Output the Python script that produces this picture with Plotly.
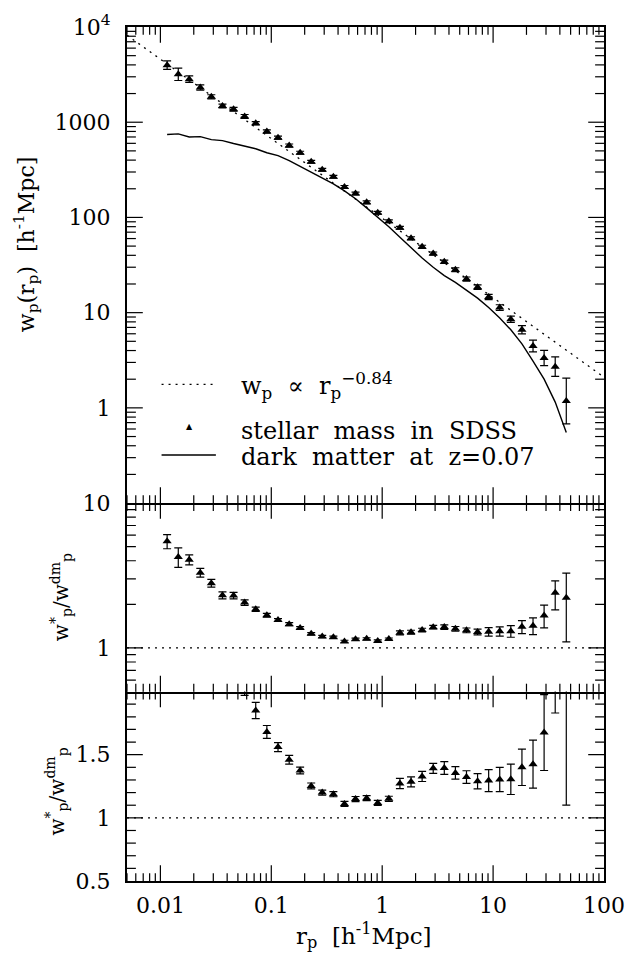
import numpy as np
import plotly.graph_objects as go

# ---------------- data ----------------
rp = [0.0115, 0.0145, 0.0182, 0.0229, 0.0288, 0.0363, 0.0457, 0.0575, 0.0724, 0.0912,
      0.115, 0.145, 0.182, 0.229, 0.288, 0.363, 0.457, 0.575, 0.724, 0.912,
      1.148, 1.445, 1.820, 2.291, 2.884, 3.631, 4.571, 5.754, 7.244, 9.120,
      11.48, 14.45, 18.20, 22.91, 28.84, 36.31, 45.71]

wp_star = [3975, 3185, 2833, 2317, 1846, 1479, 1368, 1151, 975, 799,
           688, 569, 479, 384, 317, 267, 209, 178, 144, 112,
           91.2, 77.8, 60.4, 49.2, 41.7, 34.2, 28.3, 22.5, 18.5, 14.6,
           11.3, 8.53, 6.62, 4.46, 3.34, 2.71, 1.18]

wp_star_err_dex = [0.044, 0.065, 0.034, 0.028, 0.022, 0.02, 0.02, 0.02, 0.018, 0.018,
                   0.016, 0.016, 0.015, 0.015, 0.015, 0.015, 0.015, 0.015, 0.015, 0.015,
                   0.015, 0.015, 0.016, 0.016, 0.017, 0.018, 0.02, 0.022, 0.024, 0.027,
                   0.03, 0.033, 0.043, 0.062, 0.08, 0.103, 0.24]

wp_dm = [743, 755, 700, 706, 656, 641, 597, 560, 526, 478,
         446, 396, 346, 300, 262, 225, 190, 157, 126, 101,
         80, 62, 48, 37.5, 30, 24.5, 20.8, 17.0, 14.2, 11.3,
         8.8, 6.6, 4.7, 3.1, 2.0, 1.15, 0.55]

ratio = [5.45, 4.25, 4.07, 3.31, 2.80, 2.31, 2.30, 2.06, 1.85, 1.68,
         1.56, 1.46, 1.375, 1.253, 1.20, 1.187, 1.11, 1.149, 1.156, 1.118,
         1.151, 1.272, 1.285, 1.328, 1.392, 1.395, 1.356, 1.323, 1.290, 1.295,
         1.303, 1.305, 1.40, 1.425, 1.675, 2.40, 2.22]
ratio_err_up = [0.61, 0.65, 0.32, 0.23, 0.17, 0.13, 0.12, 0.09, 0.064, 0.051,
                0.035, 0.035, 0.027, 0.023, 0.02, 0.02, 0.02, 0.02, 0.02, 0.02,
                0.02, 0.041, 0.04, 0.04, 0.04, 0.05, 0.05, 0.05, 0.06, 0.087,
                0.096, 0.12, 0.144, 0.19, 0.30, 0.50, 1.06]
ratio_err_dn = [0.61, 0.65, 0.32, 0.23, 0.17, 0.13, 0.12, 0.09, 0.064, 0.051,
                0.035, 0.035, 0.027, 0.023, 0.02, 0.02, 0.02, 0.02, 0.02, 0.02,
                0.02, 0.041, 0.04, 0.04, 0.04, 0.05, 0.05, 0.05, 0.06, 0.087,
                0.096, 0.12, 0.144, 0.19, 0.30, 0.57, 1.12]

powerlaw_rp = [0.005, 100]
powerlaw_wp = [8200, 2.1]
unity_rp = [0.005, 100]
unity_val = [1, 1]

x_ticks = [0.01, 0.1, 1, 10, 100]
x_ticktext = ["0.01", "0.1", "1", "10", "100"]
top_ticks = [0.1, 1, 10, 100, 1000, 10000]
top_ticktext = ["", "1", "10", "100", "1000", "10<sup>4</sup>"]
mid_ticks = [1, 10]
mid_ticktext = ["1", "10"]
bot_ticks = [0.5, 1, 1.5, 2]
bot_ticktext = ["0.5", "1", "1.5", ""]

# ---------------- layout geometry ----------------
W, H = 636, 958
L, R, T, B = 127, 26, 11, 77
PW = W - L - R   # 483
PH = H - T - B   # 870
H_TOP, H_MID, H_BOT = 485, 192, 193
d_bot = [0, H_BOT / PH]
d_mid = [H_BOT / PH, (H_BOT + H_MID) / PH]
d_top = [(H_BOT + H_MID) / PH, 1]

FONT = "DejaVu Serif"
TF = dict(family=FONT, size=22, color="black")
BLK = "#000000"

wp_up = [w * (10 ** e - 1) for w, e in zip(wp_star, wp_star_err_dex)]
wp_dn = [w * (1 - 10 ** (-e)) for w, e in zip(wp_star, wp_star_err_dex)]

def decade_minor(lo_exp, hi_exp):
    out = []
    for e in range(lo_exp, hi_exp):
        for m in range(2, 10):
            out.append(m * 10.0 ** e)
    return out

x_minor = [v for v in decade_minor(-3, 2) if 0.005 <= v <= 100]
top_minor = decade_minor(-1, 4)
mid_minor = [v for v in decade_minor(-1, 1) if v > 0.5]
bot_minor = [0.6, 0.7, 0.8, 0.9, 1.1, 1.2, 1.3, 1.4, 1.6, 1.7, 1.8, 1.9]

fig = go.Figure()

fig.add_trace(go.Scatter(x=powerlaw_rp, y=powerlaw_wp, mode="lines",
                         line=dict(color=BLK, width=1.3, dash="2px,5px"),
                         xaxis="x", yaxis="y", showlegend=False))
fig.add_trace(go.Scatter(x=rp, y=wp_dm, mode="lines",
                         line=dict(color=BLK, width=1.4),
                         xaxis="x", yaxis="y", showlegend=False))
fig.add_trace(go.Scatter(x=rp, y=wp_star, mode="markers",
                         marker=dict(symbol="triangle-up", size=8, color=BLK),
                         error_y=dict(type="data", array=wp_up, arrayminus=wp_dn,
                                      color=BLK, thickness=1.2, width=4),
                         xaxis="x", yaxis="y", showlegend=False))
fig.add_trace(go.Scatter(x=unity_rp, y=unity_val, mode="lines",
                         line=dict(color=BLK, width=1.3, dash="2px,5px"),
                         xaxis="x2", yaxis="y2", showlegend=False))
fig.add_trace(go.Scatter(x=rp, y=ratio, mode="markers",
                         marker=dict(symbol="triangle-up", size=8, color=BLK),
                         error_y=dict(type="data", array=ratio_err_up, arrayminus=ratio_err_dn,
                                      color=BLK, thickness=1.2, width=4),
                         xaxis="x2", yaxis="y2", showlegend=False))
fig.add_trace(go.Scatter(x=unity_rp, y=unity_val, mode="lines",
                         line=dict(color=BLK, width=1.3, dash="2px,5px"),
                         xaxis="x3", yaxis="y3", showlegend=False))
fig.add_trace(go.Scatter(x=rp, y=ratio, mode="markers",
                         marker=dict(symbol="triangle-up", size=8, color=BLK),
                         error_y=dict(type="data", array=ratio_err_up, arrayminus=ratio_err_dn,
                                      color=BLK, thickness=1.2, width=4),
                         xaxis="x3", yaxis="y3", showlegend=False))

def ax(**kw):
    d = dict(showline=True, linecolor=BLK, linewidth=2, showgrid=False, zeroline=False,
             ticks="", tickfont=TF)
    d.update(kw)
    return d

xr = [np.log10(0.005), 2]
xa1 = ax(type="log", range=xr, anchor="y", tickmode="array", tickvals=x_ticks,
         ticktext=x_ticktext, showticklabels=False, mirror=True)
xa2 = ax(type="log", range=xr, anchor="y2", tickmode="array", tickvals=x_ticks,
         ticktext=x_ticktext, showticklabels=False, mirror=False)
xa3 = ax(type="log", range=xr, anchor="y3", tickmode="array", tickvals=x_ticks,
         ticktext=x_ticktext, mirror=False, ticklabelstandoff=4)
ya1 = ax(type="log", range=[-1, 4], domain=d_top, anchor="x", tickmode="array",
         tickvals=top_ticks, ticktext=top_ticktext, mirror=True, ticklabelstandoff=10)
ya2 = ax(type="log", range=[np.log10(0.5), 1], domain=d_mid, anchor="x2", tickmode="array",
         tickvals=mid_ticks, ticktext=mid_ticktext, mirror=True, ticklabelstandoff=10)
ya3 = ax(type="linear", range=[0.5, 2.0], domain=d_bot, anchor="x3", tickmode="array",
         tickvals=bot_ticks, ticktext=bot_ticktext, mirror=True, ticklabelstandoff=10)

# ---------------- tick marks (inside, on all four sides of each panel) ----------------
shapes = []
TW = 1.2

def x_tick_marks(xref, yref, panel_h, vals, length):
    f = length / panel_h
    for v in vals:
        for y0, y1 in ((0, f), (1, 1 - f)):
            shapes.append(dict(type="line", xref=xref, yref=yref + " domain",
                               x0=v, x1=v, y0=y0, y1=y1,
                               line=dict(color=BLK, width=TW), layer="above"))

def y_tick_marks(xref, yref, vals, length):
    f = length / PW
    for v in vals:
        for x0, x1 in ((0, f), (1, 1 - f)):
            shapes.append(dict(type="line", xref=xref + " domain", yref=yref,
                               x0=x0, x1=x1, y0=v, y1=v,
                               line=dict(color=BLK, width=TW), layer="above"))

for xr_, yr_, ph in (("x", "y", H_TOP), ("x2", "y2", H_MID), ("x3", "y3", H_BOT)):
    x_tick_marks(xr_, yr_, ph, [v for v in x_ticks if v < 100], 16)
    x_tick_marks(xr_, yr_, ph, x_minor, 8)

y_tick_marks("x", "y", [v for v in top_ticks if 0.1 < v < 10000], 16)
y_tick_marks("x", "y", top_minor, 9)
y_tick_marks("x2", "y2", [1], 16)
y_tick_marks("x2", "y2", mid_minor, 9)
y_tick_marks("x3", "y3", [1, 1.5], 16)
y_tick_marks("x3", "y3", bot_minor, 9)

def px_x(p):
    return (p - L) / PW

def px_y(p):
    return (H - B - p) / PH

# legend samples
shapes.append(dict(type="line", xref="paper", yref="paper", x0=px_x(162), x1=px_x(217),
                   y0=px_y(375), y1=px_y(375), line=dict(color=BLK, width=1.3, dash="2px,5px")))
shapes.append(dict(type="line", xref="paper", yref="paper", x0=px_x(162), x1=px_x(217),
                   y0=px_y(447), y1=px_y(447), line=dict(color=BLK, width=1.3)))

annotations = [
    dict(text="w<sub>p</sub>(r<sub>p</sub>)  [h<sup>-1</sup>Mpc]", x=px_x(25), y=px_y(232),
         textangle=-90, font=dict(family=FONT, size=22, color=BLK)),
    dict(text="w<sup>*</sup><sub>p</sub>/w<sup>dm</sup><sub>p</sub>", x=px_x(60), y=px_y(592),
         textangle=-90, font=dict(family=FONT, size=20, color=BLK)),
    dict(text="w<sup>*</sup><sub>p</sub>/w<sup>dm</sup><sub>p</sub>", x=px_x(56), y=px_y(790),
         textangle=-90, font=dict(family=FONT, size=20, color=BLK)),
    dict(text="r<sub>p</sub>  [h<sup>-1</sup>Mpc]", x=px_x(367), y=px_y(937),
         font=dict(family=FONT, size=23, color=BLK)),
    dict(text="w<sub>p</sub>  \u221d  r<sub>p</sub><sup>\u22120.84</sup>", x=px_x(240), y=px_y(376),
         xanchor="left", font=dict(family=FONT, size=24, color=BLK)),
    dict(text="stellar  mass  in  SDSS", x=px_x(240), y=px_y(423),
         xanchor="left", font=dict(family=FONT, size=24, color=BLK)),
    dict(text="dark  matter  at  z=0.07", x=px_x(240), y=px_y(449),
         xanchor="left", font=dict(family=FONT, size=24, color=BLK)),
    dict(text="\u25b2", x=px_x(190), y=px_y(418),
         font=dict(family="DejaVu Sans", size=8, color=BLK)),
]
for a in annotations:
    a.setdefault("xref", "paper")
    a.setdefault("yref", "paper")
    a.setdefault("showarrow", False)
    a.setdefault("xanchor", "center")
    a.setdefault("yanchor", "middle")

fig.update_layout(
    width=W, height=H,
    margin=dict(l=L, r=R, t=T, b=B),
    paper_bgcolor="white", plot_bgcolor="white",
    showlegend=False,
    xaxis=xa1, xaxis2=xa2, xaxis3=xa3,
    yaxis=ya1, yaxis2=ya2, yaxis3=ya3,
    annotations=annotations, shapes=shapes,
)

fig.write_html("out.html")
